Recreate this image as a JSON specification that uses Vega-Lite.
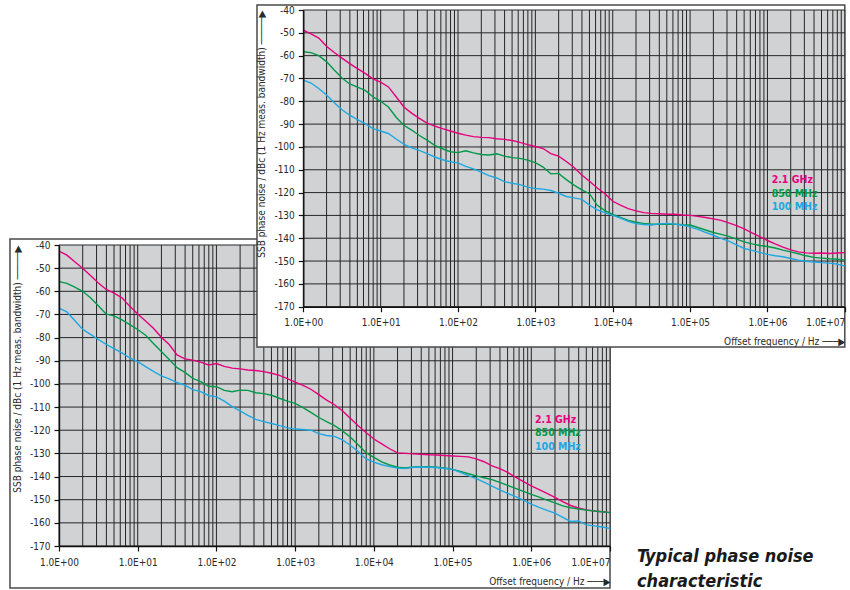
{
  "$schema": "https://vega.github.io/schema/vega-lite/v6.json",
  "width": 850,
  "height": 590,
  "autosize": {"type": "none"},
  "padding": 0,
  "background": "white",
  "config": {
    "view": {"stroke": null},
    "font": "DejaVu Sans Condensed, sans-serif",
    "axis": {
      "grid": false,
      "domainColor": "#111111",
      "domainWidth": 1.4,
      "tickColor": "#111111",
      "tickWidth": 1.2,
      "tickSize": 5,
      "labelFont": "DejaVu Sans Condensed, sans-serif",
      "labelFontSize": 10,
      "labelColor": "#2a2a2a",
      "labelOverlap": false,
      "titleFont": "DejaVu Sans Condensed, sans-serif",
      "titleFontSize": 10,
      "titleFontWeight": "normal",
      "titleColor": "#2a2a2a"
    }
  },
  "title": {
    "text": ["Typical phase noise", "characteristic"],
    "orient": "bottom",
    "anchor": "start",
    "frame": "group",
    "baseline": "top",
    "offset": 0,
    "dx": 637,
    "dy": -42,
    "font": "DejaVu Sans Condensed, sans-serif",
    "fontSize": 18,
    "fontStyle": "italic",
    "fontWeight": "bold",
    "color": "#1a1a1a",
    "lineHeight": 25
  },
  "datasets": {
    "vgrid": [
      {"f": 1}, {"f": 2}, {"f": 3}, {"f": 4}, {"f": 5}, {"f": 6}, {"f": 7}, {"f": 8}, {"f": 9},
      {"f": 10}, {"f": 20}, {"f": 30}, {"f": 40}, {"f": 50}, {"f": 60}, {"f": 70}, {"f": 80}, {"f": 90},
      {"f": 100}, {"f": 200}, {"f": 300}, {"f": 400}, {"f": 500}, {"f": 600}, {"f": 700}, {"f": 800}, {"f": 900},
      {"f": 1000}, {"f": 2000}, {"f": 3000}, {"f": 4000}, {"f": 5000}, {"f": 6000}, {"f": 7000}, {"f": 8000}, {"f": 9000},
      {"f": 10000}, {"f": 20000}, {"f": 30000}, {"f": 40000}, {"f": 50000}, {"f": 60000}, {"f": 70000}, {"f": 80000}, {"f": 90000},
      {"f": 100000}, {"f": 200000}, {"f": 300000}, {"f": 400000}, {"f": 500000}, {"f": 600000}, {"f": 700000}, {"f": 800000}, {"f": 900000},
      {"f": 1000000}, {"f": 2000000}, {"f": 3000000}, {"f": 4000000}, {"f": 5000000}, {"f": 6000000}, {"f": 7000000}, {"f": 8000000}, {"f": 9000000},
      {"f": 10000000}
    ],
    "hgrid": [
      {"v": -40}, {"v": -50}, {"v": -60}, {"v": -70}, {"v": -80}, {"v": -90}, {"v": -100},
      {"v": -110}, {"v": -120}, {"v": -130}, {"v": -140}, {"v": -150}, {"v": -160}, {"v": -170}
    ],
    "top": [
      {"f": 1, "ghz2_1": -48.8, "mhz850": -58.3, "mhz100": -70.7},
      {"f": 1.259, "ghz2_1": -50.5, "mhz850": -58.7, "mhz100": -72.0},
      {"f": 1.585, "ghz2_1": -52.3, "mhz850": -60.0, "mhz100": -74.4},
      {"f": 1.995, "ghz2_1": -55.9, "mhz850": -62.6, "mhz100": -77.2},
      {"f": 2.512, "ghz2_1": -58.6, "mhz850": -66.3, "mhz100": -80.6},
      {"f": 3.162, "ghz2_1": -61.1, "mhz850": -69.8, "mhz100": -83.7},
      {"f": 3.981, "ghz2_1": -63.5, "mhz850": -72.4, "mhz100": -86.1},
      {"f": 5.012, "ghz2_1": -65.7, "mhz850": -73.8, "mhz100": -88.0},
      {"f": 6.31, "ghz2_1": -67.8, "mhz850": -75.2, "mhz100": -89.8},
      {"f": 7.943, "ghz2_1": -70.2, "mhz850": -78.0, "mhz100": -92.0},
      {"f": 10, "ghz2_1": -71.6, "mhz850": -80.0, "mhz100": -93.0},
      {"f": 12.59, "ghz2_1": -73.7, "mhz850": -82.5, "mhz100": -94.1},
      {"f": 15.85, "ghz2_1": -78.0, "mhz850": -87.0, "mhz100": -96.5},
      {"f": 19.95, "ghz2_1": -82.5, "mhz850": -90.5, "mhz100": -98.8},
      {"f": 25.12, "ghz2_1": -85.2, "mhz850": -92.6, "mhz100": -100.4},
      {"f": 31.62, "ghz2_1": -87.5, "mhz850": -95.0, "mhz100": -101.5},
      {"f": 39.81, "ghz2_1": -89.6, "mhz850": -97.0, "mhz100": -102.9},
      {"f": 50.12, "ghz2_1": -90.9, "mhz850": -99.3, "mhz100": -104.4},
      {"f": 63.1, "ghz2_1": -92.0, "mhz850": -100.8, "mhz100": -105.6},
      {"f": 79.43, "ghz2_1": -93.0, "mhz850": -102.1, "mhz100": -106.5},
      {"f": 100, "ghz2_1": -94.0, "mhz850": -102.5, "mhz100": -107.0},
      {"f": 125.9, "ghz2_1": -94.8, "mhz850": -101.7, "mhz100": -108.5},
      {"f": 158.5, "ghz2_1": -95.5, "mhz850": -102.6, "mhz100": -109.6},
      {"f": 199.5, "ghz2_1": -95.8, "mhz850": -103.3, "mhz100": -111.0},
      {"f": 251.2, "ghz2_1": -95.9, "mhz850": -103.5, "mhz100": -112.6},
      {"f": 316.2, "ghz2_1": -96.4, "mhz850": -103.0, "mhz100": -113.6},
      {"f": 398.1, "ghz2_1": -96.7, "mhz850": -104.0, "mhz100": -115.2},
      {"f": 501.2, "ghz2_1": -97.2, "mhz850": -104.7, "mhz100": -115.9},
      {"f": 631, "ghz2_1": -98.0, "mhz850": -105.0, "mhz100": -116.5},
      {"f": 794.3, "ghz2_1": -99.0, "mhz850": -105.8, "mhz100": -117.6},
      {"f": 1000, "ghz2_1": -99.8, "mhz850": -106.9, "mhz100": -118.2},
      {"f": 1259, "ghz2_1": -100.7, "mhz850": -108.8, "mhz100": -118.5},
      {"f": 1585, "ghz2_1": -102.9, "mhz850": -111.8, "mhz100": -119.1},
      {"f": 1995, "ghz2_1": -104.0, "mhz850": -111.6, "mhz100": -120.3},
      {"f": 2512, "ghz2_1": -106.4, "mhz850": -114.3, "mhz100": -121.7},
      {"f": 3162, "ghz2_1": -109.0, "mhz850": -116.7, "mhz100": -122.3},
      {"f": 3981, "ghz2_1": -112.3, "mhz850": -118.8, "mhz100": -123.0},
      {"f": 5012, "ghz2_1": -115.0, "mhz850": -120.5, "mhz100": -125.5},
      {"f": 6310, "ghz2_1": -118.0, "mhz850": -125.6, "mhz100": -127.6},
      {"f": 7943, "ghz2_1": -120.5, "mhz850": -127.9, "mhz100": -128.8},
      {"f": 10000, "ghz2_1": -123.8, "mhz850": -129.6, "mhz100": -130.0},
      {"f": 12589, "ghz2_1": -125.5, "mhz850": -130.9, "mhz100": -131.2},
      {"f": 15849, "ghz2_1": -127.0, "mhz850": -132.2, "mhz100": -132.6},
      {"f": 19953, "ghz2_1": -128.0, "mhz850": -133.0, "mhz100": -133.6},
      {"f": 25119, "ghz2_1": -128.8, "mhz850": -133.5, "mhz100": -134.0},
      {"f": 31623, "ghz2_1": -129.1, "mhz850": -133.8, "mhz100": -134.2},
      {"f": 39811, "ghz2_1": -129.3, "mhz850": -133.9, "mhz100": -133.7},
      {"f": 50119, "ghz2_1": -129.5, "mhz850": -133.9, "mhz100": -133.5},
      {"f": 63096, "ghz2_1": -129.5, "mhz850": -133.8, "mhz100": -133.8},
      {"f": 79433, "ghz2_1": -129.8, "mhz850": -134.1, "mhz100": -134.2},
      {"f": 100000, "ghz2_1": -130.0, "mhz850": -134.2, "mhz100": -135.0},
      {"f": 125893, "ghz2_1": -130.4, "mhz850": -135.3, "mhz100": -136.1},
      {"f": 158489, "ghz2_1": -130.9, "mhz850": -136.4, "mhz100": -137.4},
      {"f": 199526, "ghz2_1": -131.5, "mhz850": -137.5, "mhz100": -138.7},
      {"f": 251189, "ghz2_1": -132.2, "mhz850": -138.3, "mhz100": -140.1},
      {"f": 316228, "ghz2_1": -133.3, "mhz850": -139.2, "mhz100": -141.3},
      {"f": 398107, "ghz2_1": -134.5, "mhz850": -140.4, "mhz100": -142.9},
      {"f": 501187, "ghz2_1": -135.9, "mhz850": -141.6, "mhz100": -144.5},
      {"f": 630957, "ghz2_1": -137.6, "mhz850": -142.5, "mhz100": -145.3},
      {"f": 794328, "ghz2_1": -139.3, "mhz850": -143.2, "mhz100": -146.2},
      {"f": 1000000, "ghz2_1": -141.0, "mhz850": -143.6, "mhz100": -147.1},
      {"f": 1258925, "ghz2_1": -142.5, "mhz850": -144.3, "mhz100": -147.7},
      {"f": 1584893, "ghz2_1": -143.9, "mhz850": -145.2, "mhz100": -148.1},
      {"f": 1995262, "ghz2_1": -145.1, "mhz850": -146.0, "mhz100": -148.9},
      {"f": 2511886, "ghz2_1": -146.0, "mhz850": -146.8, "mhz100": -149.6},
      {"f": 3162278, "ghz2_1": -146.4, "mhz850": -147.7, "mhz100": -150.1},
      {"f": 3981072, "ghz2_1": -146.6, "mhz850": -148.4, "mhz100": -150.4},
      {"f": 5011872, "ghz2_1": -146.5, "mhz850": -148.7, "mhz100": -150.7},
      {"f": 6309573, "ghz2_1": -146.7, "mhz850": -149.0, "mhz100": -150.9},
      {"f": 7943282, "ghz2_1": -146.5, "mhz850": -149.2, "mhz100": -151.3},
      {"f": 10000000, "ghz2_1": -146.3, "mhz850": -149.5, "mhz100": -152.2}
    ],
    "bottom": [
      {"f": 1, "ghz2_1": -42.6, "mhz850": -55.8, "mhz100": -67.3},
      {"f": 1.259, "ghz2_1": -44.4, "mhz850": -56.6, "mhz100": -68.9},
      {"f": 1.585, "ghz2_1": -47.2, "mhz850": -58.2, "mhz100": -72.6},
      {"f": 1.995, "ghz2_1": -50.0, "mhz850": -60.0, "mhz100": -76.4},
      {"f": 2.512, "ghz2_1": -53.2, "mhz850": -62.8, "mhz100": -78.6},
      {"f": 3.162, "ghz2_1": -56.4, "mhz850": -66.2, "mhz100": -80.8},
      {"f": 3.981, "ghz2_1": -59.2, "mhz850": -69.9, "mhz100": -82.9},
      {"f": 5.012, "ghz2_1": -60.8, "mhz850": -70.6, "mhz100": -84.8},
      {"f": 6.31, "ghz2_1": -62.8, "mhz850": -72.3, "mhz100": -86.6},
      {"f": 7.943, "ghz2_1": -66.5, "mhz850": -74.4, "mhz100": -88.8},
      {"f": 10, "ghz2_1": -69.8, "mhz850": -76.5, "mhz100": -90.4},
      {"f": 12.59, "ghz2_1": -72.8, "mhz850": -79.0, "mhz100": -92.5},
      {"f": 15.85, "ghz2_1": -76.0, "mhz850": -82.5, "mhz100": -94.6},
      {"f": 19.95, "ghz2_1": -79.8, "mhz850": -86.0, "mhz100": -96.5},
      {"f": 25.12, "ghz2_1": -83.0, "mhz850": -89.5, "mhz100": -97.8},
      {"f": 31.62, "ghz2_1": -87.5, "mhz850": -93.0, "mhz100": -99.4},
      {"f": 39.81, "ghz2_1": -89.2, "mhz850": -95.0, "mhz100": -100.5},
      {"f": 50.12, "ghz2_1": -89.7, "mhz850": -97.6, "mhz100": -102.5},
      {"f": 63.1, "ghz2_1": -90.6, "mhz850": -99.0, "mhz100": -103.3},
      {"f": 79.43, "ghz2_1": -91.8, "mhz850": -101.0, "mhz100": -105.0},
      {"f": 100, "ghz2_1": -91.2, "mhz850": -101.2, "mhz100": -105.6},
      {"f": 125.9, "ghz2_1": -92.4, "mhz850": -102.8, "mhz100": -107.4},
      {"f": 158.5, "ghz2_1": -93.2, "mhz850": -103.4, "mhz100": -109.8},
      {"f": 199.5, "ghz2_1": -93.5, "mhz850": -102.7, "mhz100": -111.6},
      {"f": 251.2, "ghz2_1": -94.0, "mhz850": -102.8, "mhz100": -113.6},
      {"f": 316.2, "ghz2_1": -94.2, "mhz850": -103.8, "mhz100": -115.3},
      {"f": 398.1, "ghz2_1": -94.7, "mhz850": -104.2, "mhz100": -116.3},
      {"f": 501.2, "ghz2_1": -95.4, "mhz850": -104.9, "mhz100": -117.1},
      {"f": 631, "ghz2_1": -96.3, "mhz850": -106.2, "mhz100": -118.0},
      {"f": 794.3, "ghz2_1": -97.7, "mhz850": -107.4, "mhz100": -118.9},
      {"f": 1000, "ghz2_1": -99.2, "mhz850": -108.4, "mhz100": -119.5},
      {"f": 1259, "ghz2_1": -100.6, "mhz850": -110.2, "mhz100": -119.7},
      {"f": 1585, "ghz2_1": -102.3, "mhz850": -112.3, "mhz100": -120.0},
      {"f": 1995, "ghz2_1": -104.6, "mhz850": -114.5, "mhz100": -121.5},
      {"f": 2512, "ghz2_1": -107.0, "mhz850": -116.3, "mhz100": -122.3},
      {"f": 3162, "ghz2_1": -109.0, "mhz850": -118.0, "mhz100": -122.7},
      {"f": 3981, "ghz2_1": -111.6, "mhz850": -120.3, "mhz100": -124.2},
      {"f": 5012, "ghz2_1": -114.8, "mhz850": -122.9, "mhz100": -126.5},
      {"f": 6310, "ghz2_1": -118.1, "mhz850": -126.3, "mhz100": -129.2},
      {"f": 7943, "ghz2_1": -121.0, "mhz850": -129.7, "mhz100": -132.4},
      {"f": 10000, "ghz2_1": -123.8, "mhz850": -131.7, "mhz100": -133.8},
      {"f": 12589, "ghz2_1": -125.9, "mhz850": -133.7, "mhz100": -134.9},
      {"f": 15849, "ghz2_1": -128.0, "mhz850": -135.0, "mhz100": -135.7},
      {"f": 19953, "ghz2_1": -129.8, "mhz850": -136.0, "mhz100": -136.3},
      {"f": 25119, "ghz2_1": -130.0, "mhz850": -136.3, "mhz100": -136.6},
      {"f": 31623, "ghz2_1": -130.2, "mhz850": -135.9, "mhz100": -136.0},
      {"f": 39811, "ghz2_1": -130.4, "mhz850": -135.7, "mhz100": -135.9},
      {"f": 50119, "ghz2_1": -130.6, "mhz850": -135.8, "mhz100": -136.0},
      {"f": 63096, "ghz2_1": -130.7, "mhz850": -136.0, "mhz100": -136.1},
      {"f": 79433, "ghz2_1": -130.9, "mhz850": -136.3, "mhz100": -136.5},
      {"f": 100000, "ghz2_1": -131.1, "mhz850": -136.9, "mhz100": -136.9},
      {"f": 125893, "ghz2_1": -131.3, "mhz850": -137.8, "mhz100": -138.2},
      {"f": 158489, "ghz2_1": -131.5, "mhz850": -138.8, "mhz100": -139.6},
      {"f": 199526, "ghz2_1": -132.4, "mhz850": -139.7, "mhz100": -140.9},
      {"f": 251189, "ghz2_1": -133.6, "mhz850": -140.5, "mhz100": -142.4},
      {"f": 316228, "ghz2_1": -135.4, "mhz850": -141.3, "mhz100": -144.1},
      {"f": 398107, "ghz2_1": -136.6, "mhz850": -142.5, "mhz100": -145.8},
      {"f": 501187, "ghz2_1": -138.2, "mhz850": -143.8, "mhz100": -147.3},
      {"f": 630957, "ghz2_1": -140.3, "mhz850": -145.1, "mhz100": -148.7},
      {"f": 794328, "ghz2_1": -142.2, "mhz850": -146.4, "mhz100": -150.2},
      {"f": 1000000, "ghz2_1": -144.0, "mhz850": -147.7, "mhz100": -151.9},
      {"f": 1258925, "ghz2_1": -145.6, "mhz850": -148.9, "mhz100": -153.3},
      {"f": 1584893, "ghz2_1": -147.3, "mhz850": -150.2, "mhz100": -154.6},
      {"f": 1995262, "ghz2_1": -149.0, "mhz850": -151.4, "mhz100": -155.8},
      {"f": 2511886, "ghz2_1": -150.8, "mhz850": -152.7, "mhz100": -157.6},
      {"f": 3162278, "ghz2_1": -152.5, "mhz850": -153.5, "mhz100": -159.4},
      {"f": 3981072, "ghz2_1": -153.6, "mhz850": -154.0, "mhz100": -159.2},
      {"f": 5011872, "ghz2_1": -154.4, "mhz850": -154.5, "mhz100": -160.9},
      {"f": 6309573, "ghz2_1": -154.9, "mhz850": -154.9, "mhz100": -161.3},
      {"f": 7943282, "ghz2_1": -155.2, "mhz850": -155.2, "mhz100": -161.8},
      {"f": 10000000, "ghz2_1": -155.6, "mhz850": -155.6, "mhz100": -162.4}
    ]
  },
  "resolve": {
    "scale": {"x": "independent", "y": "independent"},
    "axis": {"x": "independent", "y": "independent"}
  },
  "layer": [
    {
      "layer": [
        {
          "data": {"values": [{}]},
          "mark": {"type": "rect", "fill": "white", "stroke": "#4a4a4a", "strokeWidth": 1.5},
          "encoding": {
            "x": {
              "datum": 0.2384, "type": "quantitative",
              "scale": {"type": "log", "domain": [1, 10000000], "range": [59, 610], "nice": false},
              "axis": {
                "orient": "bottom", "offset": -44, "zindex": 1,
                "values": [1, 10, 100, 1000, 10000, 100000, 1000000, 10000000],
                "labelExpr": "'1.0E+0' + round(log(datum.value) / LN10)",
                "labelAlign": {"condition": {"test": "datum.value > 5000000", "value": "right"}, "value": "center"},
                "labelPadding": 6,
                "title": "Offset frequency / Hz \u2500\u2500\u2500\u25b6",
                "titleAnchor": "end",
                "titlePadding": 9
              }
            },
            "x2": {"datum": 10000000},
            "y": {
              "datum": -37.41, "type": "quantitative",
              "scale": {"domain": [-170, -40], "range": [546, 245], "nice": false, "zero": false},
              "axis": {
                "orient": "left", "offset": -59, "zindex": 1,
                "values": [-40, -50, -60, -70, -80, -90, -100, -110, -120, -130, -140, -150, -160, -170],
                "labelExpr": "'' + datum.value",
                "labelPadding": 4,
                "title": "SSB phase noise / dBc (1 Hz meas. bandwidth) \u2500\u2500\u2500\u2500\u2500\u25b6",
                "titleAnchor": "end",
                "titlePadding": 7
              }
            },
            "y2": {"datum": -188.14}
          }
        },
        {
          "data": {"values": [{}]},
          "mark": {"type": "rect", "fill": "#d1d2d4"},
          "encoding": {
            "x": {"datum": 1, "type": "quantitative"},
            "x2": {"datum": 10000000},
            "y": {"datum": -40, "type": "quantitative"},
            "y2": {"datum": -170}
          }
        },
        {
          "data": {"name": "vgrid"},
          "mark": {"type": "rule", "color": "#262626", "strokeWidth": 1},
          "encoding": {
            "x": {"field": "f", "type": "quantitative"},
            "y": {"datum": -40, "type": "quantitative"},
            "y2": {"datum": -170}
          }
        },
        {
          "data": {"name": "hgrid"},
          "mark": {"type": "rule", "color": "#262626", "strokeWidth": 1},
          "encoding": {
            "y": {"field": "v", "type": "quantitative"},
            "x": {"datum": 1, "type": "quantitative"},
            "x2": {"datum": 10000000}
          }
        },
        {
          "data": {"name": "bottom"},
          "transform": [{"fold": ["ghz2_1", "mhz850", "mhz100"], "as": ["series", "v"]}],
          "mark": {"type": "line", "strokeWidth": 1.4},
          "encoding": {
            "x": {"field": "f", "type": "quantitative"},
            "y": {"field": "v", "type": "quantitative"},
            "color": {
              "field": "series", "type": "nominal", "legend": null,
              "scale": {"domain": ["ghz2_1", "mhz850", "mhz100"], "range": ["#e5007d", "#00994a", "#1ea8e2"]}
            }
          }
        },
        {
          "data": {"values": [{}]},
          "mark": {"type": "text", "align": "left", "baseline": "middle", "fontWeight": "bold", "fontSize": 10.5, "color": "#e5007d"},
          "encoding": {
            "x": {"datum": 1116000, "type": "quantitative"},
            "y": {"datum": -115.6, "type": "quantitative"},
            "text": {"value": "2.1 GHz"}
          }
        },
        {
          "data": {"values": [{}]},
          "mark": {"type": "text", "align": "left", "baseline": "middle", "fontWeight": "bold", "fontSize": 10.5, "color": "#00994a"},
          "encoding": {
            "x": {"datum": 1116000, "type": "quantitative"},
            "y": {"datum": -121.1, "type": "quantitative"},
            "text": {"value": "850 MHz"}
          }
        },
        {
          "data": {"values": [{}]},
          "mark": {"type": "text", "align": "left", "baseline": "middle", "fontWeight": "bold", "fontSize": 10.5, "color": "#1ea8e2"},
          "encoding": {
            "x": {"datum": 1116000, "type": "quantitative"},
            "y": {"datum": -127.1, "type": "quantitative"},
            "text": {"value": "100 MHz"}
          }
        }
      ]
    },
    {
      "layer": [
        {
          "data": {"values": [{}]},
          "mark": {"type": "rect", "fill": "white", "stroke": "#4a4a4a", "strokeWidth": 1.5},
          "encoding": {
            "x": {
              "datum": 0.252, "type": "quantitative",
              "scale": {"type": "log", "domain": [1, 10000000], "range": [303.3, 844.8], "nice": false},
              "axis": {
                "orient": "bottom", "offset": -283.3, "zindex": 1,
                "values": [1, 10, 100, 1000, 10000, 100000, 1000000, 10000000],
                "labelExpr": "'1.0E+0' + round(log(datum.value) / LN10)",
                "labelAlign": {"condition": {"test": "datum.value > 5000000", "value": "right"}, "value": "center"},
                "labelPadding": 6,
                "title": "Offset frequency / Hz \u2500\u2500\u2500\u25b6",
                "titleAnchor": "end",
                "titlePadding": 9
              }
            },
            "x2": {"datum": 10000000},
            "y": {
              "datum": -37.81, "type": "quantitative",
              "scale": {"domain": [-170, -40], "range": [306.7, 10], "nice": false, "zero": false},
              "axis": {
                "orient": "left", "offset": -303.3, "zindex": 1,
                "values": [-40, -50, -60, -70, -80, -90, -100, -110, -120, -130, -140, -150, -160, -170],
                "labelExpr": "'' + datum.value",
                "labelPadding": 4,
                "title": "SSB phase noise / dBc (1 Hz meas. bandwidth) \u2500\u2500\u2500\u2500\u2500\u25b6",
                "titleAnchor": "end",
                "titlePadding": 7
              }
            },
            "y2": {"datum": -187.66}
          }
        },
        {
          "data": {"values": [{}]},
          "mark": {"type": "rect", "fill": "#d1d2d4"},
          "encoding": {
            "x": {"datum": 1, "type": "quantitative"},
            "x2": {"datum": 10000000},
            "y": {"datum": -40, "type": "quantitative"},
            "y2": {"datum": -170}
          }
        },
        {
          "data": {"name": "vgrid"},
          "mark": {"type": "rule", "color": "#262626", "strokeWidth": 1},
          "encoding": {
            "x": {"field": "f", "type": "quantitative"},
            "y": {"datum": -40, "type": "quantitative"},
            "y2": {"datum": -170}
          }
        },
        {
          "data": {"name": "hgrid"},
          "mark": {"type": "rule", "color": "#262626", "strokeWidth": 1},
          "encoding": {
            "y": {"field": "v", "type": "quantitative"},
            "x": {"datum": 1, "type": "quantitative"},
            "x2": {"datum": 10000000}
          }
        },
        {
          "data": {"name": "top"},
          "transform": [{"fold": ["ghz2_1", "mhz850", "mhz100"], "as": ["series", "v"]}],
          "mark": {"type": "line", "strokeWidth": 1.4},
          "encoding": {
            "x": {"field": "f", "type": "quantitative"},
            "y": {"field": "v", "type": "quantitative"},
            "color": {
              "field": "series", "type": "nominal", "legend": null,
              "scale": {"domain": ["ghz2_1", "mhz850", "mhz100"], "range": ["#e5007d", "#00994a", "#1ea8e2"]}
            }
          }
        },
        {
          "data": {"values": [{}]},
          "mark": {"type": "text", "align": "left", "baseline": "middle", "fontWeight": "bold", "fontSize": 10.5, "color": "#e5007d"},
          "encoding": {
            "x": {"datum": 1135000, "type": "quantitative"},
            "y": {"datum": -114.5, "type": "quantitative"},
            "text": {"value": "2.1 GHz"}
          }
        },
        {
          "data": {"values": [{}]},
          "mark": {"type": "text", "align": "left", "baseline": "middle", "fontWeight": "bold", "fontSize": 10.5, "color": "#00994a"},
          "encoding": {
            "x": {"datum": 1135000, "type": "quantitative"},
            "y": {"datum": -120.6, "type": "quantitative"},
            "text": {"value": "850 MHz"}
          }
        },
        {
          "data": {"values": [{}]},
          "mark": {"type": "text", "align": "left", "baseline": "middle", "fontWeight": "bold", "fontSize": 10.5, "color": "#1ea8e2"},
          "encoding": {
            "x": {"datum": 1135000, "type": "quantitative"},
            "y": {"datum": -126.2, "type": "quantitative"},
            "text": {"value": "100 MHz"}
          }
        }
      ]
    }
  ]
}
